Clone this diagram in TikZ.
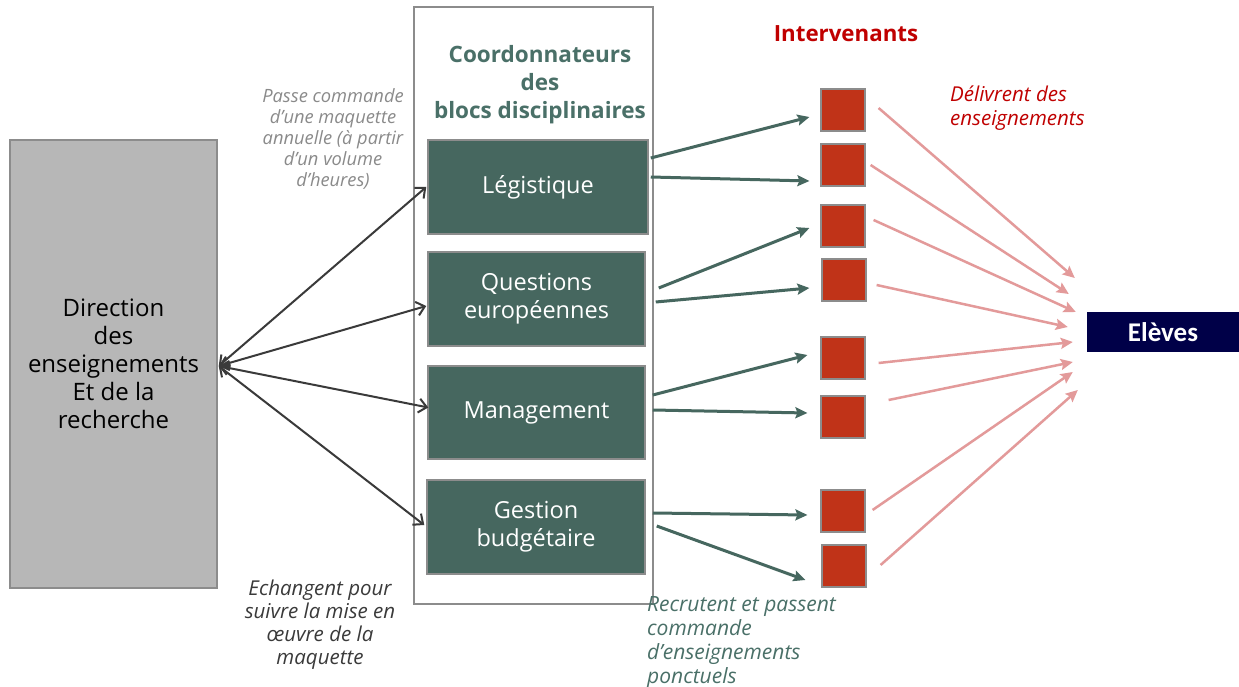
\documentclass[tikz,border=0pt]{standalone}
\usepackage{fontspec}
\setmainfont{Open Sans}
\newfontfamily\calibrifont{Carlito}
\usetikzlibrary{arrows.meta}
\definecolor{dergray}{HTML}{B7B7B7}
\definecolor{boxborder}{HTML}{8C8C8C}
\definecolor{teal}{HTML}{46675F}
\definecolor{tealtext}{HTML}{4A7068}
\definecolor{sqred}{HTML}{C03318}
\definecolor{pinkarrow}{HTML}{E39A9A}
\definecolor{darkred}{HTML}{C00000}
\definecolor{navy}{HTML}{000048}
\definecolor{darkarrow}{HTML}{3A3A3A}
\definecolor{notegray}{HTML}{8A8A8A}
\begin{document}
\begin{tikzpicture}[x=1pt,y=-1pt,
  derbox/.style={draw=boxborder,line width=1.5pt,fill=dergray,minimum width=207pt,minimum height=448pt,inner sep=0pt,
    align=center,font=\fontsize{24}{28}\selectfont,text=black},
  blocbox/.style={draw=boxborder,line width=1.5pt,fill=teal,inner sep=0pt,align=center,
    font=\fontsize{23.5}{28}\selectfont,text=white},
  sq/.style={draw=boxborder,line width=1.2pt,fill=sqred,minimum width=44pt,minimum height=42pt,inner sep=0pt},
  dbl/.style={draw=darkarrow,line width=2pt,{Straight Barb[length=8pt,width=14pt]}-{Straight Barb[length=8pt,width=14pt]}},
  garrow/.style={draw=teal,line width=3pt,-{Stealth[length=12pt,width=11pt,inset=2pt]}},
  parrow/.style={draw=pinkarrow,line width=2.5pt,-{Stealth[length=12pt,width=11pt,inset=2pt]}},
  note/.style={font=\fontsize{18.3}{21}\selectfont\itshape,align=center,inner sep=0pt}
]
\useasboundingbox (0,0) rectangle (1239,687);
\fill[white] (0,0) rectangle (1239,687);

% outer box
\node[draw=boxborder,line width=1.5pt,minimum width=239pt,minimum height=597pt,inner sep=0pt] (outer) at (533.5,305.5) {};

% left box
\node[derbox] (der) at (113.5,364) {Direction\\des\\enseignements\\Et de la\\recherche};

% title
\node[font=\fontsize{22.5}{28}\selectfont\bfseries,text=tealtext,align=center,inner sep=0pt] (coord) at (540,85) {Coordonnateurs\\des\\blocs disciplinaires};

% bloc boxes
\node[blocbox,minimum width=220pt,minimum height=94pt] (leg) at (538,187) {Légistique};
\node[blocbox,minimum width=217pt,minimum height=94pt] (qe) at (536.5,299) {Questions\\européennes};
\node[blocbox,minimum width=217pt,minimum height=93pt] (man) at (536.5,412.5) {Management};
\node[blocbox,minimum width=218pt,minimum height=94pt] (ges) at (536,527) {Gestion\\budgétaire};

% notes
\node[note,text=notegray] (passe) at (333,139) {Passe commande\\d’une maquette\\annuelle (à partir\\d’un volume\\d’heures)};
\node[note,text=darkarrow,font=\fontsize{20.5}{23}\selectfont\itshape] (ech) at (320,625) {Echangent pour\\suivre la mise en\\œuvre de la\\maquette};
\node[font=\fontsize{21}{24}\selectfont\itshape,text=tealtext,align=left,inner sep=0pt,anchor=north west] (recr) at (647,596) {Recrutent et passent\\commande\\d’enseignements\\ponctuels};
\node[font=\fontsize{20.5}{24}\selectfont\itshape,text=darkred,align=left,inner sep=0pt,anchor=north west] (deliv) at (950,86) {Délivrent des\\enseignements};

% intervenants
\node[font=\fontsize{22.3}{26}\selectfont\bfseries,text=darkred,inner sep=0pt] (interv) at (846,34) {Intervenants};
\node[sq] (s1) at (843,110) {};
\node[sq] (s2) at (843,165) {};
\node[sq] (s3) at (843,226) {};
\node[sq] (s4) at (844,280) {};
\node[sq] (s5) at (843,358) {};
\node[sq] (s6) at (843,417) {};
\node[sq] (s7) at (843,511) {};
\node[sq] (s8) at (844,566) {};

% eleves
\node[fill=navy,minimum width=152pt,minimum height=40pt,inner sep=0pt,text=white,font=\calibrifont\fontsize{27}{30}\selectfont\bfseries] (elv) at (1163,332) {Elèves};

% double arrows
\draw[dbl] ([shift={(1,2)}]der.east) -- ([shift={(-1,0)}]leg.west);
\draw[dbl] ([shift={(1,2)}]der.east) -- ([shift={(-1,7)}]qe.west);
\draw[dbl] ([shift={(1,2)}]der.east) -- ([shift={(1,-5)}]man.west);
\draw[dbl] ([shift={(1,2)}]der.east) -- ([shift={(-2,-2)}]ges.west);

% green arrows
\draw[garrow] ([shift={(2,-29)}]leg.east) -- ([shift={(-11,7)}]s1.west);
\draw[garrow] ([shift={(2,-10)}]leg.east) -- ([shift={(-11,16)}]s2.west);
\draw[garrow] ([shift={(13,-11)}]qe.east) -- ([shift={(-11,2)}]s3.west);
\draw[garrow] ([shift={(10,3)}]qe.east) -- ([shift={(-12,8)}]s4.west);
\draw[garrow] ([shift={(7,-17.5)}]man.east) -- ([shift={(-13,-3)}]s5.west);
\draw[garrow] ([shift={(7,-2.5)}]man.east) -- ([shift={(-13,-4)}]s6.west);
\draw[garrow] ([shift={(7,-14)}]ges.east) -- ([shift={(-13,4)}]s7.west);
\draw[garrow] ([shift={(11,-1)}]ges.east) -- ([shift={(-16,14)}]s8.west);

% pink arrows
\draw[parrow] ([shift={(13,-2)}]s1.east) -- ([shift={(-12,-54)}]elv.west);
\draw[parrow] ([shift={(5,0)}]s2.east) -- ([shift={(-18,-38)}]elv.west);
\draw[parrow] ([shift={(8,-6)}]s3.east) -- ([shift={(-11,-20)}]elv.west);
\draw[parrow] ([shift={(10,5)}]s4.east) -- ([shift={(-19,-5)}]elv.west);
\draw[parrow] ([shift={(13,5)}]s5.east) -- ([shift={(-14,10)}]elv.west);
\draw[parrow] ([shift={(23,-17)}]s6.east) -- ([shift={(-14,30)}]elv.west);
\draw[parrow] ([shift={(7,-1)}]s7.east) -- ([shift={(-14,40)}]elv.west);
\draw[parrow] ([shift={(14,-1)}]s8.east) -- ([shift={(-9,58)}]elv.west);
\end{tikzpicture}
\end{document}
